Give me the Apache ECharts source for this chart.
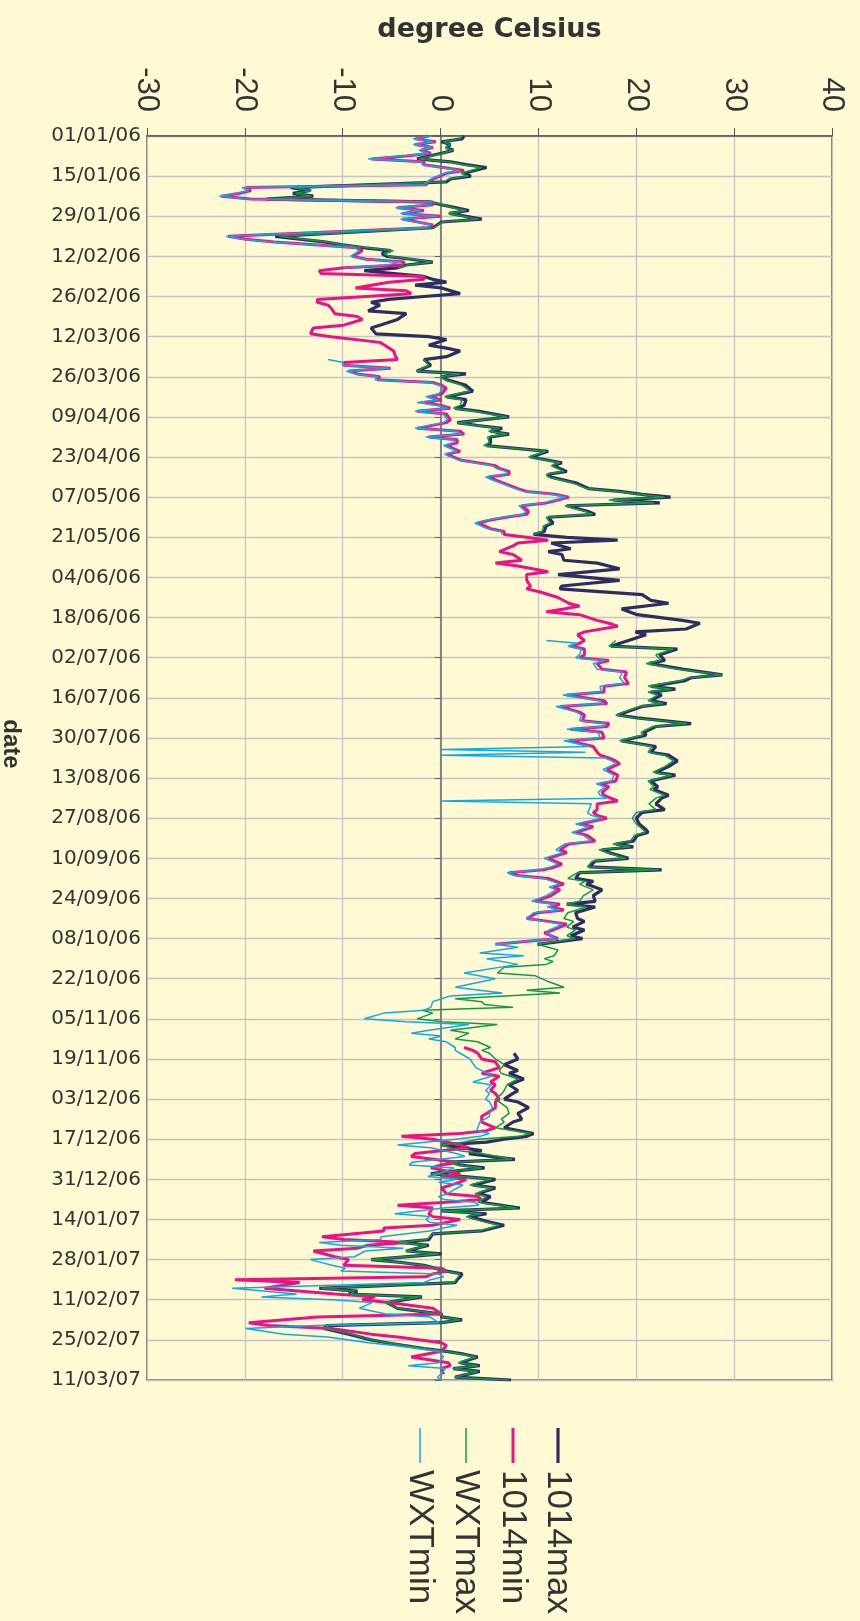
<!DOCTYPE html>
<html>
<head>
<meta charset="utf-8">
<title>degree Celsius</title>
<script src="https://cdn.jsdelivr.net/npm/echarts/dist/echarts.min.js"></script>
<style>
html, body { margin: 0; padding: 0; background: #fffad4; }
#chart { width: 860px; height: 1621px; }
</style>
</head>
<body>
<div id="chart"></div>
<script>
// day 0 = 01/01/06, one label every 14 days
const dateLabels = ['01/01/06','15/01/06','29/01/06','12/02/06','26/02/06','12/03/06','26/03/06','09/04/06',
  '23/04/06','07/05/06','21/05/06','04/06/06','18/06/06','02/07/06','16/07/06','30/07/06','13/08/06','27/08/06',
  '10/09/06','24/09/06','08/10/06','22/10/06','05/11/06','19/11/06','03/12/06','17/12/06','31/12/06','14/01/07',
  '28/01/07','11/02/07','25/02/07','11/03/07'];

// daily maxima (day number, value)
const maxDays = [0,1,2,3,4,5,6,8,9,10,11,13,14,15,16,18,19,20,21,22,23,24,25,26,27,29,30,32,35,36,37,
  38,39,40,41,42,43,44,45,46,47,49,50,51,52,53,55,56,57,58,59,61,62,64,66,67,69,70,71,73,74,75,77,
  78,80,82,83,84,85,87,89,91,92,94,95,96,98,100,101,102,103,104,105,107,108,110,111,112,114,115,117,
  118,119,121,123,124,125,126,127,128,129,131,132,133,135,136,138,139,140,141,142,144,145,146,148,149,151,153,155,157,
  158,160,162,163,165,167,169,170,172,173,174,176,178,179,181,183,184,186,188,189,190,192,193,194,195,197,
  198,199,202,203,205,206,208,209,211,213,215,216,218,220,222,223,225,227,228,230,231,233,235,236,238,
  240,242,243,244,246,247,248,249,250,252,253,255,256,257,259,260,261,263,265,267,268,269,271,273,274,276,277,279,
  280,282,284,286,287,288,289,290,292,293,295,297,298,299,301,302,303,304,305,306,308,309,310,312,313,315,316,318,
  319,320,322,324,326,327,329,331,333,334,336,337,339,341,343,344,346,348,349,350,351,352,354,355,357,358,
  359,360,362,364,366,367,369,370,372,374,375,376,377,379,380,382,383,385,386,387,389,390,392,393,394,396,397,398,
  399,400,402,403,404,405,407,409,411,412,413,414,415,416,418,420,421,423,424,425,426,428,429,430,431,433,434];

const max1014 = [2.4,2.2,0.1,1.0,0.6,1.3,0.1,-2.4,1.0,2.6,4.7,2.4,3.1,1.0,0.6,-15.3,-13.3,-15.1,-13.0,-17.8,-1.2,0.1,1.5,2.9,0.9,4.2,0.1,-0.8,-16.9,-14.4,-11.7,
  -10.0,-7.7,-5.1,-6.0,-5.5,-3.0,-0.8,-3.5,-4.4,-7.8,-1.7,-0.8,0.6,-2.6,0.1,2.0,-1.7,-5.3,-7.1,-6.2,-7.4,-3.5,-4.4,-6.2,-7.1,-6.6,-1.2,0.6,-1.2,0.6,2.0,0.6,
  -1.7,-1.0,-2.4,2.6,0.1,0.6,2.6,3.3,0.6,2.6,2.4,1.5,3.8,7.0,1.7,3.8,6.3,5.1,7.0,5.1,5.1,4.7,11.0,10.1,9.2,12.4,11.5,12.9,
  11.0,11.3,13.8,15.1,18.3,20.6,23.5,17.6,22.4,12.9,15.1,15.8,11.0,11.5,10.8,10.6,9.5,12.9,18.1,11.3,13.3,11.0,12.4,12.6,16.0,18.3,12.0,18.3,12.4,
  12.2,20.6,21.5,23.3,18.5,20.1,24.7,26.5,25.1,19.9,21.0,19.2,17.4,24.2,22.4,22.9,21.3,24.7,28.8,25.6,25.0,21.5,24.0,21.5,22.6,21.5,
  23.1,20.6,18.1,20.1,25.6,22.0,20.8,21.0,18.5,22.0,21.5,23.3,24.2,23.3,22.0,24.0,21.5,22.2,21.8,23.3,22.6,22.0,22.9,20.6,20.0,
  20.3,21.0,21.2,20.1,19.7,17.9,19.7,16.5,17.2,19.2,15.8,15.2,22.6,14.2,13.8,15.6,14.9,16.5,15.6,15.8,12.9,15.8,13.8,14.0,14.7,13.5,14.7,13.3,
  14.5,9.9,null,null,null,null,null,null,null,null,null,null,null,null,null,null,null,null,null,null,null,null,null,null,null,null,null,null,
  null,7.5,7.9,6.5,7.9,7.0,8.5,7.0,7.9,7.4,6.5,7.9,9.0,7.9,8.3,7.4,6.5,9.5,8.8,6.5,4.7,0.1,4.2,2.9,7.6,1.0,
  2.0,4.5,-1.0,5.6,3.3,5.6,3.8,5.1,4.2,8.1,0.1,4.7,2.9,5.1,6.5,4.2,-0.8,-1.2,-4.2,-1.2,-3.5,0.1,-7.1,-4.0,-1.7,0.6,2.2,2.0,
  1.7,1.5,-12.4,-8.5,-9.4,-1.9,-5.5,-4.4,0.1,0.1,2.2,0.1,-11.7,-11.9,-9.4,-7.1,-5.5,-1.7,0.6,2.4,3.8,2.0,4.0,1.3,4.0,1.5,7.2];

const wxtMax = [2.2,2.0,0.3,1.0,0.5,1.2,0.2,-2.2,0.8,2.3,4.2,2.1,2.8,0.8,0.4,-15.0,-13.2,-14.8,-13.2,-17.5,-1.0,0.3,1.2,2.6,0.8,3.9,0.2,-0.7,-16.5,-14.0,-11.5,
  -9.8,-7.4,-4.8,-5.8,-5.2,-2.8,-0.9,-3.3,-4.4,null,null,null,null,null,null,null,null,null,null,null,null,null,null,null,null,null,null,null,null,null,null,null,
  -1.7,-1.2,-2.5,2.0,0.0,0.5,2.2,3.0,0.4,2.2,2.0,1.3,3.5,6.8,1.7,3.6,6.0,4.9,6.8,4.8,5.0,4.4,10.8,9.9,9.0,12.2,11.3,12.6,
  10.8,11.0,13.5,14.9,18.0,20.3,22.9,17.2,21.8,12.7,14.8,15.5,10.8,11.2,10.5,10.4,9.5,null,null,null,null,null,null,null,null,null,null,null,null,
  null,null,null,null,null,null,null,null,null,null,null,17.9,17.2,23.8,22.0,22.5,21.0,24.3,28.8,25.3,24.6,21.2,23.6,21.2,22.2,21.2,
  22.7,20.3,17.9,19.8,25.2,21.7,20.5,20.7,18.3,21.6,21.2,22.9,23.8,22.9,21.7,23.6,21.2,21.8,21.4,22.9,22.0,21.3,22.0,20.0,19.6,
  20.0,20.7,20.9,19.8,19.4,17.6,19.4,16.2,17.0,18.9,15.5,15.0,22.3,14.0,13.0,14.8,14.2,15.6,14.6,14.2,12.9,14.9,13.0,12.6,13.6,12.9,13.8,12.9,
  13.8,9.9,12.0,11.6,10.6,11.5,10.8,6.5,5.8,9.7,11.0,12.6,8.8,12.2,1.5,4.2,4.5,7.4,-1.9,-0.8,-2.4,0.1,5.8,1.0,2.9,1.5,3.8,5.1,
  4.2,5.0,5.6,6.5,6.0,6.2,7.9,6.8,6.5,6.3,5.6,6.0,6.8,7.0,6.2,6.5,5.6,9.2,8.0,3.8,2.5,0.1,2.0,4.2,7.3,1.0,
  1.8,4.2,-1.0,5.2,3.0,5.3,3.5,4.7,3.8,7.8,0.1,4.2,2.6,4.7,6.0,3.9,-0.8,-1.4,-4.4,-1.4,-3.6,-0.2,-7.1,-4.2,-1.8,0.4,2.0,1.8,
  1.6,1.4,-12.2,-8.8,-9.2,-2.0,-5.6,-4.4,0.0,0.2,2.0,0.0,-11.5,-11.8,-9.2,-7.0,-5.4,-1.8,0.5,2.2,3.6,1.8,3.8,1.2,3.8,1.4,7.0];

// daily minima (day number, value)
const minDays = [0,1,2,3,4,5,6,7,8,9,10,12,13,15,16,17,18,19,20,21,22,23,24,25,26,27,28,29,31,32,35,36,37,
  38,39,40,42,43,44,45,46,47,48,49,50,51,53,54,55,57,58,59,60,62,63,64,66,67,69,70,72,73,75,77,
  78,79,80,81,82,83,84,85,86,87,88,90,91,92,93,94,95,96,97,99,100,102,103,104,105,106,107,108,110,111,113,114,115,116,117,
  118,119,120,123,124,125,126,127,128,129,131,132,133,134,135,137,138,139,140,141,142,143,145,146,148,149,150,152,153,155,157,
  158,159,161,163,164,165,166,167,169,170,171,173,174,176,177,178,179,181,182,183,184,186,187,189,191,192,194,195,197,
  198,199,201,202,204,205,206,207,208,210,211,213,214,215,216,217,218,219,221,223,225,226,227,229,230,231,232,233,235,236,237,
  238,240,241,243,244,246,247,249,250,252,254,255,256,257,258,259,261,262,263,265,267,268,269,270,271,273,274,275,277,278,
  280,282,283,285,286,287,289,292,294,297,299,300,301,302,304,305,306,308,309,310,312,313,314,315,316,318,
  319,320,322,323,325,327,328,330,331,333,334,336,337,339,341,342,344,346,347,348,349,350,352,353,355,356,358,
  359,360,362,363,364,365,366,367,369,370,371,372,373,374,376,377,378,379,380,381,382,384,385,386,387,388,389,391,392,394,395,396,397,398,
  399,400,402,404,405,406,407,409,411,412,414,415,416,418,419,421,422,424,426,428,429,430,432,433,434];

const min1014 = [-1.2,-2.6,-0.5,-2.6,-0.8,-2.0,-1.0,-3.5,-7.1,-1.7,-1.7,2.4,0.6,-0.8,-1.2,-1.5,-19.9,-19.4,-20.5,-22.4,-19.4,-0.8,-0.8,-4.4,-1.7,-3.9,0.0,-3.9,-0.8,-1.2,-21.7,-19.9,-17.0,
  -12.5,-8.5,-8.0,-9.0,-7.6,-3.7,-4.0,-9.9,-12.4,-12.2,-1.7,-1.7,-5.3,-8.7,-3.5,-3.0,-12.6,-12.6,-11.5,-11.2,-10.8,-8.5,-8.0,-9.9,-13.0,-13.3,-11.2,-6.2,-5.7,-4.8,-4.6,
  -4.4,-9.9,-9.9,-5.1,-9.4,-8.5,-6.2,-6.5,-0.8,0.1,0.6,0.1,-1.2,0.1,-1.7,0.1,1.0,-2.4,0.6,1.0,0.6,-2.4,2.0,2.4,-1.2,1.7,1.7,0.6,2.0,0.6,2.0,3.8,5.6,6.0,7.0,
  7.0,4.9,5.6,7.9,8.8,11.7,13.1,12.0,10.8,8.3,9.0,8.8,6.7,5.1,3.8,5.1,6.5,6.5,8.8,11.0,7.9,7.4,6.0,7.4,8.3,5.6,7.9,11.0,8.8,8.8,9.2,
  8.8,10.1,12.0,13.1,14.2,12.6,10.8,14.2,16.0,17.2,18.1,14.7,14.0,14.7,14.2,13.3,14.7,14.7,14.2,17.2,16.0,16.5,19.0,18.8,19.2,16.7,16.7,12.9,16.7,
  17.0,12.2,14.2,14.7,14.5,17.2,17.0,13.3,16.5,16.7,13.1,15.6,15.8,16.0,16.3,17.2,17.9,18.3,17.0,18.1,17.9,16.3,17.2,16.5,16.7,17.4,18.1,16.0,16.0,15.6,16.0,
  17.0,14.2,15.6,13.8,15.0,15.8,13.1,12.2,12.9,11.0,12.4,11.7,10.5,7.0,7.9,11.0,12.6,11.5,12.2,11.3,9.7,12.2,11.3,12.6,9.9,8.8,11.0,12.9,11.5,10.6,
  12.0,5.6,null,null,null,null,null,null,null,null,null,null,null,null,null,null,null,null,null,null,null,null,null,null,
  null,2.4,3.3,3.8,4.2,5.6,6.0,4.2,6.0,5.1,5.6,5.1,5.6,6.0,5.6,5.6,4.7,4.2,4.2,5.6,4.7,2.0,-4.0,-0.8,2.0,2.9,-2.6,
  -3.0,1.7,0.1,-1.0,2.0,0.1,2.6,2.0,1.0,0.1,0.6,3.8,4.2,0.6,-4.4,-0.8,-1.2,-0.8,2.0,0.6,-0.8,-5.8,-5.8,-12.1,-9.9,-3.5,-7.4,-8.5,-13.0,-10.8,-9.4,-9.9,0.1,0.6,
  -0.8,-1.5,-21.0,-14.4,-18.0,-10.8,-6.7,-8.0,-5.3,-0.8,0.1,-12.6,-19.6,-17.6,-11.2,-7.1,-4.4,0.1,0.6,0.1,-3.0,0.8,1.0,0.1,0.3];

const wxtMin = [-1.0,-2.8,-0.7,-2.8,-0.9,-2.2,-1.2,-3.8,-7.4,-1.9,-1.9,2.0,0.4,-1.0,-1.4,-1.7,-20.3,-19.6,-20.8,-22.6,-19.8,-1.0,-1.0,-4.6,-2.0,-4.1,-0.3,-4.1,-1.0,-1.5,-21.9,-20.2,-17.3,
  -12.8,-8.8,-8.3,-9.2,-7.8,-4.0,-5.5,-9.9,null,null,null,null,null,null,null,null,null,null,null,null,null,null,null,null,null,null,null,null,null,null,null,
  -11.5,-9.9,-10.0,-5.3,-9.6,-8.7,-6.4,-6.7,-1.0,-0.1,0.3,-0.2,-1.5,-0.2,-2.4,-0.2,0.7,-2.6,0.3,0.7,0.3,-2.6,1.7,2.1,-1.5,1.4,1.4,0.3,1.7,0.4,1.8,3.5,5.3,5.7,6.7,
  6.8,4.6,5.3,7.6,8.5,11.4,12.8,11.7,10.5,8.0,8.7,8.5,6.4,4.8,3.5,4.8,6.2,6.3,null,null,null,null,null,null,null,null,null,null,null,null,null,
  null,null,null,null,null,null,null,null,null,null,null,null,null,10.8,14.0,13.0,14.4,14.2,13.8,16.8,15.6,16.0,18.6,18.3,18.8,16.3,16.4,12.5,16.3,
  16.7,11.8,13.9,14.4,14.2,16.8,16.7,12.9,16.1,16.3,12.6,15.3,0.0,14.8,0.0,16.8,17.5,17.9,16.6,17.7,17.5,15.9,16.8,16.1,16.3,17.0,0.0,15.4,15.2,15.0,15.4,
  16.5,13.8,15.2,13.4,14.6,15.4,12.7,11.8,12.5,10.6,12.0,11.3,10.1,6.8,7.5,10.5,12.2,11.1,11.8,10.8,9.3,11.8,10.9,12.2,9.5,8.8,10.6,12.5,11.1,10.8,
  11.8,5.6,7.9,4.0,8.5,4.7,7.9,2.4,5.6,1.5,6.3,1.0,0.1,-0.8,-1.0,-1.7,-5.8,-7.8,-3.5,2.9,-1.2,-3.0,0.1,-1.2,0.6,1.5,
  1.5,2.0,3.0,3.2,3.6,4.8,5.2,3.3,5.2,4.6,5.0,4.6,5.0,5.3,5.0,5.0,4.0,3.8,3.7,5.0,4.0,1.5,-4.4,-1.0,1.6,2.5,-2.9,
  -3.2,1.4,-0.2,-1.3,1.7,-0.2,2.3,1.7,0.7,-0.2,0.3,3.5,3.9,0.3,-4.7,-1.1,-1.5,-1.1,1.7,0.3,-1.1,-6.1,-6.1,-12.4,-10.2,-3.8,-7.7,-8.8,-13.3,-11.1,-9.7,-10.2,-0.2,0.3,
  -1.0,-1.7,-21.3,-14.7,-18.3,-11.1,-7.0,-8.3,-5.6,-1.1,-0.2,-12.9,-19.9,-16.0,-11.5,-7.4,-4.7,-0.2,0.3,-0.2,-3.3,0.5,0.0,-0.3,0.0];

const seriesNames = ['1014max', '1014min', 'WXTmax', 'WXTmin'];
const seriesColors = ['#2c2d62', '#ec1285', '#0f9a45', '#12a8e6'];
const seriesWidths = [3.2, 3, 1.5, 1.5];

function pairs(days, vals) {
  return days.map((d, i) => [vals[i] === null ? '-' : vals[i], d]);
}
const seriesData = [pairs(maxDays, max1014), pairs(minDays, min1014), pairs(maxDays, wxtMax), pairs(minDays, wxtMin)];

const txt = '#333333';
const gridLine = '#c4c4c4';

// legend: vertical swatches with text running downwards
const legendX = [558, 513, 466, 420];
const legendItems = [];
seriesNames.forEach((name, i) => {
  legendItems.push({
    type: 'line',
    shape: { x1: legendX[i], y1: 1428, x2: legendX[i], y2: 1463 },
    style: { stroke: seriesColors[i], lineWidth: seriesWidths[i] }
  });
  legendItems.push({
    type: 'text',
    x: legendX[i], y: 1470, rotation: -Math.PI / 2,
    style: { text: name, fill: txt, font: '35px "Liberation Sans", Arial, sans-serif',
      textAlign: 'left', textVerticalAlign: 'middle' }
  });
});

const chart = echarts.init(document.getElementById('chart'));
chart.setOption({
  animation: false,
  backgroundColor: '#fffad4',
  textStyle: { fontFamily: '"Liberation Sans", Arial, sans-serif', color: txt },
  grid: { left: 147, right: 28, top: 136, bottom: 241, show: true, borderColor: '#555', borderWidth: 1.5,
    outerBoundsMode: 'none' },
  xAxis: {
    type: 'value', position: 'top', min: -30, max: 40, interval: 10,
    name: 'degree Celsius', nameLocation: 'middle', nameGap: 93,
    nameTextStyle: { fontFamily: '"DejaVu Sans", sans-serif', fontWeight: 'bold', fontSize: 27, color: txt },
    axisLine: { show: true, lineStyle: { color: '#555', width: 1.5 } },
    axisTick: { show: true, length: 8, lineStyle: { color: '#555' } },
    axisLabel: { rotate: -90, fontSize: 31, color: txt, margin: 24 },
    splitLine: { show: true, lineStyle: { color: gridLine, width: 1.3 } }
  },
  yAxis: [{
    type: 'value', min: 0, max: 434, interval: 14, inverse: true,
    name: 'date', nameLocation: 'middle', nameGap: 124, nameRotate: -90,
    nameTextStyle: { fontWeight: 'bold', fontSize: 24, color: txt, padding: [0, 28, 0, 0] },
    axisLine: { show: true, lineStyle: { color: '#555', width: 1.5 } },
    axisTick: { show: false },
    axisLabel: { fontFamily: '"DejaVu Sans", sans-serif', fontSize: 20, color: txt, margin: 6,
      formatter: v => dateLabels[Math.round(v / 14)] },
    splitLine: { show: true, lineStyle: { color: gridLine, width: 1.3 } }
  }, {
    // the date axis crossing at 0 degrees
    type: 'value', position: 'right', offset: -(685 * 40 / 70), min: 0, max: 434, interval: 14, inverse: true,
    axisLine: { show: true, lineStyle: { color: '#8a8a8a', width: 1.5 } },
    axisTick: { show: true, inside: true, length: 6, lineStyle: { color: '#666' } },
    axisLabel: { show: false },
    splitLine: { show: false }
  }],
  series: seriesNames.map((name, i) => ({
    name: name, type: 'line', xAxisIndex: 0, yAxisIndex: 0,
    data: seriesData[i], showSymbol: false, symbol: 'none', connectNulls: false,
    lineStyle: { color: seriesColors[i], width: seriesWidths[i] },
    itemStyle: { color: seriesColors[i] },
    z: 2 + i
  })),
  graphic: legendItems
});
</script>
</body>
</html>
